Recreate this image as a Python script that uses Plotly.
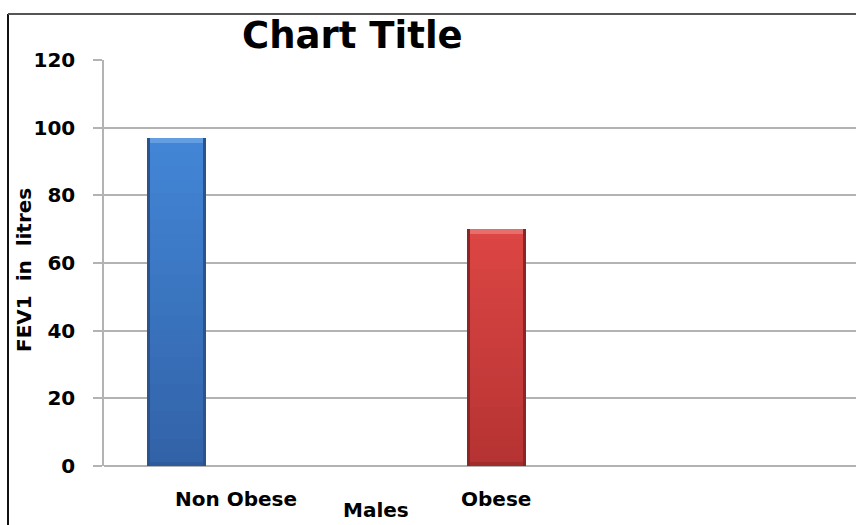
import plotly.graph_objects as go

# ---- data ----
categories = ["Non Obese", "Obese"]
fev1_values = [96.8, 70.0]
y_ticks = [0, 20, 40, 60, 80, 100, 120]
x_title = "Males"
y_title = "FEV1  in  litres"
chart_title = "Chart Title"

# ---- styling ----
FONT = "DejaVu Sans"
W, H = 856, 525
L, R, T, B = 104, 0, 60, 59
plot_w = W - L - R
plot_h = H - T - B
px_per_cat = 320.0
x_lo = -(176.3 - L) / px_per_cat
x_hi = x_lo + plot_w / px_per_cat
bar_w = 59.0 / px_per_cat
edge_px = 3.0 / px_per_cat
units_per_px = 120.0 / plot_h

palettes = [
    # edge, top-of-body, bottom-of-body, bevel highlight
    dict(edge="#2b548f", top=(66, 133, 214), bottom=(50, 99, 168), bevel="#79ade9"),
    dict(edge="#8c2626", top=(220, 70, 68), bottom=(182, 51, 51), bevel="#ee8a86"),
]

label_shift = [0.185, 0.0]  # category label offsets along the axis

fig = go.Figure()
N = 24
for i, (cat, v) in enumerate(zip(categories, fev1_values)):
    pal = palettes[i]
    # outer (darker) shell of the bar
    fig.add_trace(go.Bar(x=[i], y=[v], width=bar_w, marker=dict(color=pal["edge"], line=dict(width=0)),
                         showlegend=False, hoverinfo="skip"))
    # vertically shaded body
    for k in range(N):
        t = k / (N - 1)
        c = tuple(int(round(pal["bottom"][j] + (pal["top"][j] - pal["bottom"][j]) * t)) for j in range(3))
        seg = v / N
        fig.add_trace(go.Bar(x=[i], y=[seg], base=[seg * k], width=bar_w - 2 * edge_px,
                             marker=dict(color="rgb(%d,%d,%d)" % c, line=dict(width=0)),
                             showlegend=False, hoverinfo="skip"))
    # bevelled top highlight
    bev = 5 * units_per_px
    fig.add_trace(go.Bar(x=[i], y=[bev], base=[v - bev], width=bar_w - 2 * edge_px,
                         marker=dict(color=pal["bevel"], opacity=0.6, line=dict(width=0)),
                         showlegend=False, hoverinfo="skip"))
    # bottom shade
    sh = 4 * units_per_px
    fig.add_trace(go.Bar(x=[i], y=[sh], base=[0], width=bar_w - 2 * edge_px,
                         marker=dict(color=pal["edge"], opacity=0.5, line=dict(width=0)),
                         showlegend=False, hoverinfo="skip"))

annotations = []
for i, cat in enumerate(categories):
    annotations.append(dict(text="<b>%s</b>" % cat, x=i + label_shift[i], xref="x", xanchor="center",
                            y=-(485 - (H - B)) / plot_h, yref="paper", yanchor="top",
                            showarrow=False, font=dict(family=FONT, size=20, color="#000")))
annotations.append(dict(text="<b>%s</b>" % x_title, x=(376 - L) / plot_w, xref="paper", xanchor="center",
                        y=-(H - 1 - (H - B)) / plot_h, yref="paper", yanchor="bottom",
                        showarrow=False, font=dict(family=FONT, size=20, color="#000")))
annotations.append(dict(text="<b>%s</b>" % y_title, x=(24 - L) / plot_w, xref="paper", xanchor="center",
                        y=1 - (270 - T) / plot_h, yref="paper", yanchor="middle", textangle=-90,
                        showarrow=False, font=dict(family=FONT, size=20, color="#000")))
annotations.append(dict(text="<b>%s</b>" % chart_title, x=(352 - L) / plot_w, xref="paper", xanchor="center",
                        y=1 + (T - 35) / plot_h, yref="paper", yanchor="middle",
                        showarrow=False, font=dict(family=FONT, size=37, color="#000")))

shapes = [
    # chart frame (left and top edges)
    dict(type="line", xref="paper", yref="paper", x0=(8 - L) / plot_w, x1=(8 - L) / plot_w,
         y0=-(H + 5 - T - plot_h) / plot_h, y1=1 + (T - 14) / plot_h, line=dict(color="#111", width=2)),
    dict(type="line", xref="paper", yref="paper", x0=(8 - L) / plot_w, x1=1.02,
         y0=1 + (T - 14) / plot_h, y1=1 + (T - 14) / plot_h, line=dict(color="#555", width=2)),
]

fig.update_layout(
    width=W, height=H,
    margin=dict(l=L, r=R, t=T, b=B, pad=0),
    paper_bgcolor="white", plot_bgcolor="white",
    barmode="overlay", bargap=0,
    showlegend=False,
    annotations=annotations,
    shapes=shapes,
    xaxis=dict(range=[x_lo, x_hi], showticklabels=False, showgrid=False, zeroline=False,
               showline=False, ticks="", fixedrange=True),
    yaxis=dict(range=[0, 120], tickvals=y_ticks, ticktext=[str(t) for t in y_ticks],
               showgrid=True, gridcolor="#b3b3b3", gridwidth=1.5,
               zeroline=True, zerolinecolor="#b3b3b3", zerolinewidth=1.5,
               showline=True, linecolor="#b3b3b3", linewidth=1.5,
               ticks="outside", ticklen=9, tickcolor="#b3b3b3", tickwidth=1.5,
               ticklabelstandoff=14,
               tickfont=dict(family=FONT, size=20, color="#000", weight="bold"),
               fixedrange=True),
)

fig.write_html("out.html")
